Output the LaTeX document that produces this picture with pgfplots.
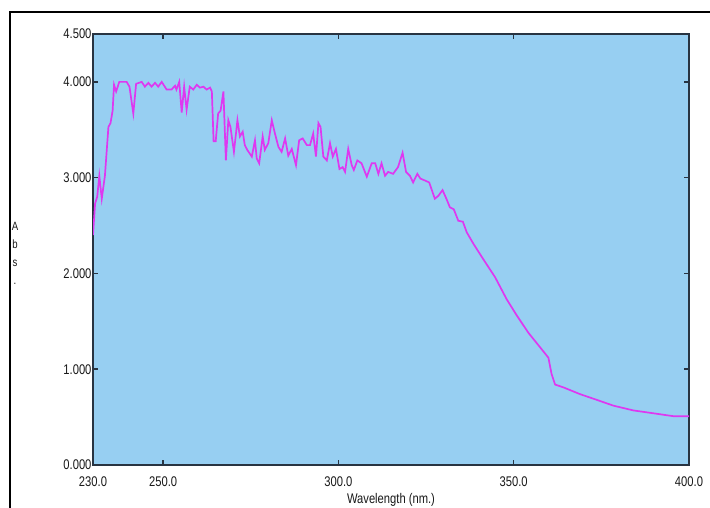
\documentclass[border=0pt]{standalone}
\usepackage{pgfplots}
\pgfplotsset{compat=1.18}
\usepackage{fontspec}
\setmainfont{Liberation Sans}[FakeStretch=0.8]
\definecolor{bgblue}{RGB}{151,207,242}
\definecolor{curve}{RGB}{222,56,240}
\definecolor{axcol}{RGB}{40,52,66}
\begin{document}
\begin{tikzpicture}[x=1pt,y=1pt]
\useasboundingbox (0,0) rectangle (710,508);
\fill[white] (0,0) rectangle (710,508);
\draw[black, line width=2pt] (10,0) -- (10,496) -- (710,496);
\begin{axis}[
  at={(93pt,43pt)}, anchor=south west,
  scale only axis, width=596pt, height=431pt,
  xmin=230, xmax=400, ymin=0, ymax=4.5,
  axis background/.style={fill=bgblue},
  axis line style={axcol, line width=1.2pt},
  xtick={230,250,300,350,400}, ytick={0,1,2,3,4,4.5},
  xticklabels={230.0,250.0,300.0,350.0,400.0},
  yticklabels={0.000,1.000,2.000,3.000,4.000,4.500},
  tick style={axcol, line width=1.5pt},
  major tick length=5pt,
  tick align=inside,
  /pgf/number format/assume math mode=true,
  ticklabel style={font=\fontsize{14}{14}\selectfont, text=black!90},
  xticklabel style={yshift=-8pt},
  yticklabel style={xshift=2pt},
  xlabel={Wavelength (nm.)},
  xlabel style={at={(axis description cs:0.5,0)}, anchor=center, yshift=-35pt, font=\fontsize{14}{14}\selectfont, text=black!90},
  clip=true,
]
\addplot[curve, line width=1.7pt] coordinates {
(230.0,2.40) (230.6,2.73) (231.2,2.80) (231.8,3.02) (232.5,2.78) (233.4,3.02)
(234.4,3.53) (235.0,3.57) (235.6,3.70) (236.0,3.97) (236.6,3.90) (237.5,4.00)
(239.6,4.00) (240.4,3.95) (241.5,3.67) (242.3,3.98) (243.9,4.00) (244.8,3.95)
(245.8,3.99) (246.7,3.95) (247.7,3.99) (248.6,3.95) (249.6,4.00) (251.0,3.92)
(252.4,3.92) (253.4,3.96) (253.8,3.92) (254.6,4.00) (255.3,3.68) (256.0,3.95)
(256.7,3.71) (257.6,3.95) (258.6,3.92) (259.6,3.97) (260.5,3.94) (261.5,3.95)
(262.4,3.92) (263.4,3.94) (263.9,3.90) (264.4,3.38) (265.0,3.38) (265.7,3.67)
(266.4,3.70) (267.2,3.90) (267.9,3.18) (268.6,3.60) (269.2,3.53) (270.2,3.27)
(271.2,3.60) (271.9,3.43) (272.7,3.48) (273.3,3.34) (274.0,3.29) (275.3,3.22)
(276.2,3.39) (276.7,3.20) (277.4,3.15) (278.4,3.43) (279.0,3.29) (280.0,3.36)
(281.0,3.60) (281.9,3.46) (282.9,3.32) (283.8,3.27) (284.8,3.41) (285.7,3.23)
(286.7,3.30) (287.9,3.13) (288.8,3.39) (289.8,3.41) (291.0,3.34) (291.9,3.34)
(292.8,3.46) (293.6,3.22) (294.3,3.57) (294.9,3.53) (295.7,3.22) (296.7,3.18)
(297.6,3.36) (298.4,3.22) (299.3,3.30) (300.3,3.09) (301.2,3.11) (301.9,3.06)
(302.8,3.30) (303.8,3.13) (304.4,3.08) (305.4,3.18) (306.6,3.15) (308.1,3.01)
(309.5,3.15) (310.5,3.15) (311.4,3.04) (312.3,3.15) (313.3,3.02) (314.2,3.06)
(315.6,3.04) (317.0,3.11) (318.3,3.26) (319.3,3.06) (320.4,3.02) (321.3,2.95)
(322.5,3.04) (323.4,2.99) (324.7,2.97) (325.9,2.95) (327.5,2.78) (328.5,2.81)
(329.7,2.87) (330.8,2.78) (331.8,2.69) (332.9,2.67) (334.2,2.55) (335.5,2.54)
(336.6,2.43) (338.5,2.31) (341.3,2.15) (344.7,1.96) (348.0,1.73) (350.9,1.56)
(354.2,1.38) (357.5,1.23) (359.9,1.12) (360.8,0.95) (361.8,0.84) (364.2,0.81)
(368.9,0.74) (373.7,0.68) (378.4,0.62) (384.1,0.57) (389.8,0.54) (395.5,0.51)
(400.0,0.51)
};
\end{axis}
\node[align=center, inner sep=0pt, anchor=north, font=\fontsize{12}{18}\selectfont, text=black!90] at (15,286) {A\\b\\s\\.};
\end{tikzpicture}
\end{document}
